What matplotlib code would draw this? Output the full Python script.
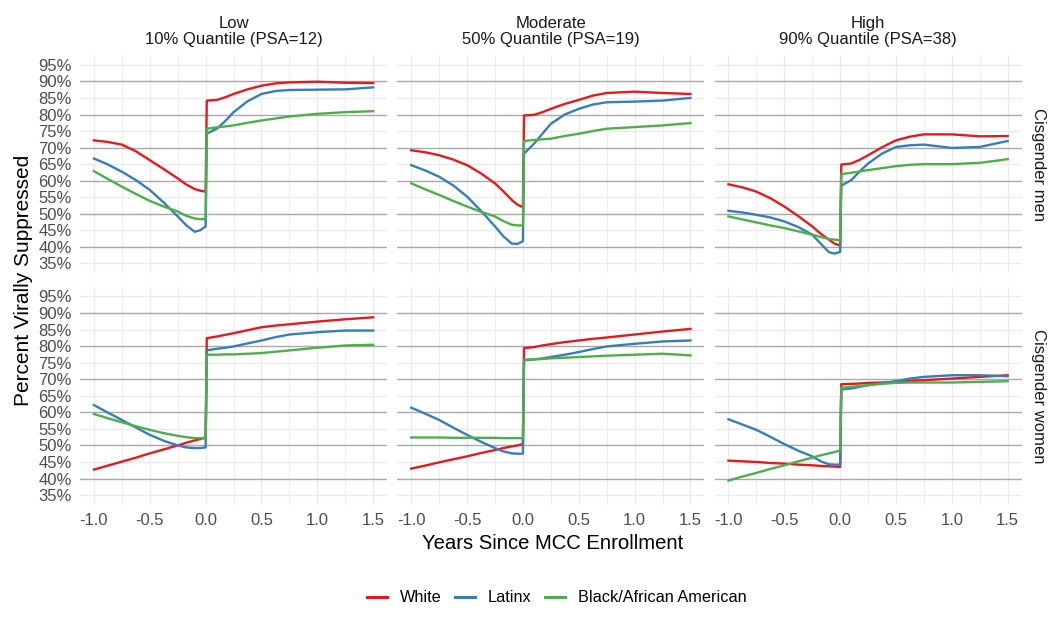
import matplotlib
matplotlib.use("Agg")
import matplotlib.pyplot as plt
from matplotlib.lines import Line2D

plt.rcParams['font.family'] = ['Liberation Sans', 'DejaVu Sans']

col_titles = ["Low\n10% Quantile (PSA=12)",
              "Moderate\n50% Quantile (PSA=19)",
              "High\n90% Quantile (PSA=38)"]
row_titles = ["Cisgender men", "Cisgender women"]
groups = ["White", "Latinx", "Black/African American"]
colors = ["#E41A1C", "#377EB8", "#4DAF4A"]

# years relative to enrollment, before and after the jump
x_pre = [-1.0, -0.875, -0.75, -0.625, -0.5, -0.375, -0.25, -0.175, -0.1, -0.05, 0.0]
x_post = [0.01, 0.1, 0.175, 0.25, 0.375, 0.5, 0.625, 0.75, 1.0, 1.25, 1.5]

# percent virally suppressed, group -> (pre values, post values)
men_low = {
    "White": ([72.2, 71.7, 70.9, 68.9, 66.2, 63.5, 60.7, 58.9, 57.5, 57.0, 56.7],
              [84.2, 84.4, 85.2, 86.2, 87.6, 88.7, 89.4, 89.7, 89.9, 89.6, 89.5]),
    "Latinx": ([66.7, 64.9, 62.7, 60.2, 57.2, 53.4, 49.2, 46.6, 44.6, 45.0, 46.2],
               [74.2, 75.7, 78.0, 80.7, 84.0, 86.2, 87.1, 87.4, 87.5, 87.6, 88.2]),
    "Black/African American": ([62.9, 60.5, 58.2, 56.0, 53.9, 52.2, 50.7, 49.4, 48.6, 48.4, 48.4],
                               [75.7, 76.1, 76.4, 76.7, 77.5, 78.2, 78.8, 79.4, 80.2, 80.7, 81.0]),
}
men_mod = {
    "White": ([69.2, 68.6, 67.7, 66.4, 64.7, 62.2, 59.2, 56.8, 54.2, 52.8, 52.0],
              [79.7, 79.9, 80.7, 81.7, 83.2, 84.4, 85.7, 86.5, 86.9, 86.5, 86.2]),
    "Latinx": ([64.7, 63.1, 61.2, 58.6, 55.2, 50.9, 46.2, 43.2, 41.0, 40.9, 41.7],
               [68.2, 71.2, 74.2, 77.2, 80.0, 81.7, 83.0, 83.7, 83.9, 84.2, 85.0]),
    "Black/African American": ([59.2, 57.4, 55.7, 53.9, 52.2, 50.6, 49.2, 47.8, 46.7, 46.5, 46.5],
                               [72.0, 72.3, 72.5, 72.7, 73.5, 74.2, 75.0, 75.7, 76.2, 76.7, 77.4]),
}
men_high = {
    "White": ([58.9, 58.0, 56.7, 54.7, 52.2, 49.3, 46.2, 44.0, 42.2, 41.0, 40.4],
              [64.9, 65.2, 66.3, 67.7, 70.1, 72.2, 73.3, 74.0, 74.0, 73.4, 73.5]),
    "Latinx": ([50.9, 50.4, 49.7, 48.9, 47.7, 46.0, 43.7, 41.0, 38.4, 38.0, 38.5],
               [58.5, 60.2, 62.8, 65.2, 68.2, 70.2, 70.7, 70.9, 69.9, 70.2, 72.0]),
    "Black/African American": ([49.2, 48.3, 47.4, 46.5, 45.7, 44.7, 43.7, 43.0, 42.4, 42.2, 42.0],
                               [62.0, 62.4, 62.8, 63.2, 63.8, 64.4, 64.8, 65.0, 65.0, 65.4, 66.5]),
}
women_low = {
    "White": ([42.7, 43.9, 45.1, 46.3, 47.6, 48.8, 50.0, 50.8, 51.5, 51.9, 52.4],
              [82.4, 82.9, 83.4, 83.9, 84.8, 85.7, 86.2, 86.6, 87.4, 88.1, 88.7]),
    "Latinx": ([62.2, 59.9, 57.7, 55.4, 53.2, 51.4, 50.0, 49.4, 49.2, 49.2, 49.4],
               [78.7, 79.2, 79.5, 79.9, 80.8, 81.7, 82.7, 83.5, 84.2, 84.7, 84.7]),
    "Black/African American": ([59.5, 58.2, 57.0, 55.8, 54.7, 53.7, 52.9, 52.5, 52.2, 52.2, 52.2],
                               [77.4, 77.4, 77.5, 77.5, 77.7, 77.9, 78.3, 78.7, 79.5, 80.2, 80.4]),
}
women_mod = {
    "White": ([43.0, 43.9, 44.9, 45.8, 46.7, 47.7, 48.6, 49.2, 49.7, 50.0, 50.4],
              [79.4, 79.7, 80.2, 80.6, 81.2, 81.7, 82.2, 82.6, 83.5, 84.4, 85.2]),
    "Latinx": ([61.4, 59.6, 57.7, 55.4, 53.2, 51.1, 49.2, 48.2, 47.6, 47.5, 47.5],
               [75.7, 76.0, 76.3, 76.7, 77.4, 78.2, 79.1, 79.9, 80.7, 81.4, 81.7]),
    "Black/African American": ([52.4, 52.4, 52.4, 52.3, 52.3, 52.3, 52.3, 52.2, 52.2, 52.2, 52.2],
                               [75.9, 76.0, 76.1, 76.3, 76.5, 76.7, 76.9, 77.1, 77.4, 77.7, 77.2]),
}
women_high = {
    "White": ([45.4, 45.2, 45.0, 44.7, 44.5, 44.2, 44.0, 43.8, 43.7, 43.6, 43.5],
              [68.5, 68.6, 68.7, 68.9, 69.0, 69.2, 69.5, 69.7, 70.2, 70.7, 71.2]),
    "Latinx": ([57.9, 56.3, 54.7, 52.6, 50.4, 48.4, 46.7, 45.2, 44.3, 44.2, 44.2],
               [66.9, 67.2, 67.7, 68.2, 68.8, 69.4, 70.2, 70.7, 71.2, 71.2, 70.9]),
    "Black/African American": ([39.4, 40.6, 41.7, 42.9, 44.0, 45.2, 46.3, 47.0, 47.6, 48.0, 48.5],
                               [67.4, 67.7, 68.0, 68.2, 68.6, 68.9, 69.0, 69.0, 69.0, 69.2, 69.4]),
}
panels = [[men_low, men_mod, men_high], [women_low, women_mod, women_high]]

y_ticks = [35, 40, 45, 50, 55, 60, 65, 70, 75, 80, 85, 90, 95]
x_ticks = [-1.0, -0.5, 0.0, 0.5, 1.0, 1.5]
x_minor = [-0.75, -0.25, 0.25, 0.75, 1.25]

fig, axes = plt.subplots(2, 3, figsize=(10.5, 6.17), dpi=100)
fig.subplots_adjust(left=0.0762, right=0.973, top=0.911, bottom=0.1815,
                    wspace=0.033, hspace=0.06)

for r in range(2):
    for c in range(3):
        ax = axes[r][c]
        for s in ax.spines.values():
            s.set_visible(False)
        ax.set_xlim(-1.125, 1.625)
        ax.set_ylim(32, 98)
        # grid: light lines everywhere, darker ones every 10%
        for xv in x_ticks:
            ax.axvline(xv, color="#EBEBEB", lw=1.0, zorder=0)
        for xv in x_minor:
            ax.axvline(xv, color="#EBEBEB", lw=0.6, zorder=0)
        for yv in y_ticks:
            if yv % 10 == 0:
                ax.axhline(yv, color="#A9A9A9", lw=1.0, zorder=1)
            else:
                ax.axhline(yv, color="#EBEBEB", lw=1.0, zorder=0)
        data = panels[r][c]
        for g, col in zip(groups, colors):
            pre, post = data[g]
            ax.plot(x_pre + x_post, pre + post, color=col, lw=1.7, zorder=3,
                    solid_joinstyle="round")
        ax.set_xticks(x_ticks)
        ax.set_yticks(y_ticks)
        ax.tick_params(axis="y", length=0, labelsize=12, colors="#4D4D4D", pad=6)
        ax.tick_params(axis="x", length=0, labelsize=12, colors="#4D4D4D", pad=6)
        if r == 1:
            ax.set_xticklabels(["-1.0", "-0.5", "0.0", "0.5", "1.0", "1.5"])
        else:
            ax.set_xticklabels([])
        if c == 0:
            ax.set_yticklabels([f"{v}%" for v in y_ticks])
        else:
            ax.set_yticklabels([])
        if r == 0:
            ax.set_title(col_titles[c], fontsize=12, color="#1A1A1A", pad=8,
                         linespacing=1.1)
        if c == 2:
            ax.text(1.03, 0.5, row_titles[r], transform=ax.transAxes,
                    rotation=-90, va="center", ha="left", fontsize=12,
                    color="#1A1A1A")

fig.text(0.013, 0.546, "Percent Virally Suppressed", rotation=90,
         va="center", ha="left", fontsize=15, color="black")
fig.text(0.526, 0.119, "Years Since MCC Enrollment", ha="center",
         va="center", fontsize=14.6, color="black")

handles = [Line2D([0], [0], color=col, lw=2.2) for col in colors]
fig.legend(handles, groups, loc="center", bbox_to_anchor=(0.53, 0.031),
           ncol=3, frameon=False, fontsize=11.7, handlelength=1.25,
           columnspacing=0.8, handletextpad=0.8)

fig.savefig("out.png", dpi=100)
